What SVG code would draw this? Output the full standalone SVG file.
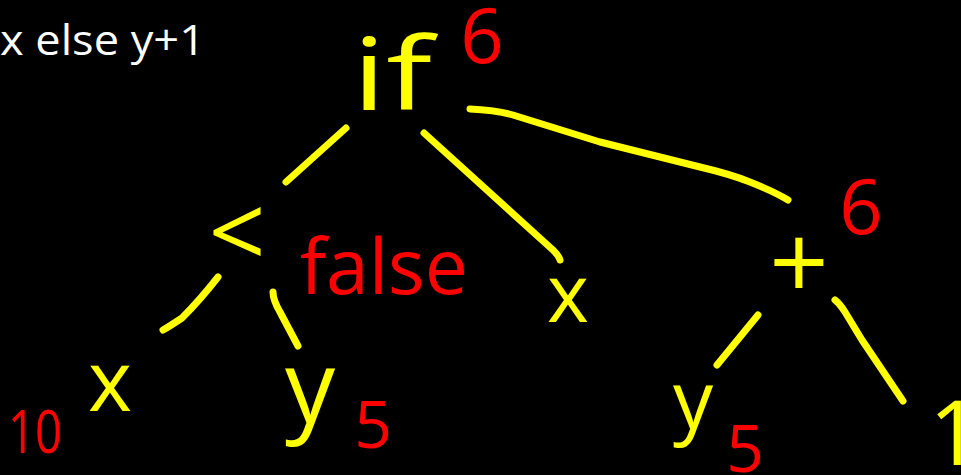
<svg xmlns="http://www.w3.org/2000/svg" width="961" height="475" viewBox="0 0 961 475">
<style>
.bg{fill:#000}
.cap{font-family:"Open Sans","Liberation Sans",sans-serif;fill:#fff}
.n{font-family:"Open Sans","DejaVu Sans",sans-serif;fill:#ffff00;text-anchor:middle}
.v{font-family:"Open Sans","DejaVu Sans",sans-serif;fill:#ff0000}
.e{fill:none;stroke:#ffff00;stroke-width:7;stroke-linecap:round;stroke-linejoin:round}
</style>
<rect class="bg" x="0" y="0" width="961" height="475"/>
<text class="cap" x="0" y="55" font-size="42" textLength="205" lengthAdjust="spacingAndGlyphs">x else y+1</text>
<g id="connectors">
<path class="e" d="M346,128 L286,182"/>
<path class="e" d="M424,133 L553,250 Q559,256 560,260"/>
<path class="e" d="M470,109 Q495,110 513,115 L600,142 L700,167 Q730,174 750,182 Q775,192 788,200"/>
<path class="e" d="M218,277 Q200,300 182,318 Q170,326 163,330"/>
<path class="e" d="M273,292 Q273,300 280,312 L298,346"/>
<path class="e" d="M758,315 L717,365"/>
<path class="e" d="M835,300 Q840,304 845,312 L862,340 L903,401"/>
</g>
<g id="node-if"><text class="n" x="392" y="110" font-size="100" textLength="80" lengthAdjust="spacingAndGlyphs">if</text><text class="v" x="482" y="63" font-size="76" text-anchor="middle">6</text></g>
<g id="node-lt"><text class="n" x="237" y="268" font-size="100">&lt;</text><text class="v" x="300" y="294" font-size="76" textLength="168" lengthAdjust="spacingAndGlyphs">false</text></g>
<g id="node-x-mid"><text class="n" x="568" y="322" font-size="80">x</text></g>
<g id="node-plus"><text class="n" x="799" y="300" font-size="104">+</text><text class="v" x="861" y="234" font-size="76" text-anchor="middle">6</text></g>
<g id="node-x-left"><text class="n" x="110" y="411" font-size="84">x</text><text class="v" x="8" y="453" font-size="60" textLength="54" lengthAdjust="spacingAndGlyphs">10</text></g>
<g id="node-y-left"><text class="n" x="310" y="423" font-size="100">y</text><text class="v" x="373" y="448" font-size="66" text-anchor="middle">5</text></g>
<g id="node-y-right"><text class="n" x="693" y="429" font-size="80">y</text><text class="v" x="745" y="472" font-size="66" text-anchor="middle">5</text></g>
<g id="node-one"><text class="n" x="955" y="465" font-size="90">1</text></g>
</svg>
